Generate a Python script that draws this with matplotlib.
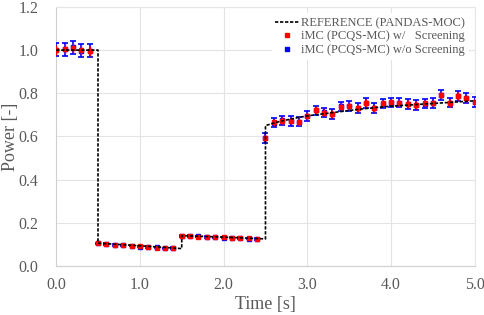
import numpy as np
import matplotlib
matplotlib.use('Agg')
import matplotlib.pyplot as plt
from matplotlib.lines import Line2D

plt.rcParams['font.family'] = ['Liberation Serif', 'DejaVu Serif']

# reference solution (PANDAS-MOC), step changes at 0.5, 1.5, 2.5 s
ref_t = [0.0, 0.5, 0.5, 1.0, 1.5, 1.5, 2.0, 2.5, 2.5, 2.6, 2.7, 2.8, 2.9,
         3.0, 3.2, 3.4, 3.6, 3.8, 4.0, 4.2, 4.4, 4.6, 4.8, 5.0]
ref_p = [1.0, 1.0, 0.105, 0.093, 0.080, 0.140, 0.133, 0.125, 0.650, 0.662,
         0.672, 0.680, 0.688, 0.695, 0.705, 0.715, 0.725, 0.733, 0.740,
         0.745, 0.750, 0.755, 0.760, 0.765]

# iMC results, sampled every 0.1 s
mc_t = [round(0.1 * i, 1) for i in range(51)]
mc_w = [1.000, 1.005, 1.010, 1.000, 0.995,
        0.105, 0.100, 0.097, 0.095, 0.092, 0.090, 0.088, 0.085, 0.083, 0.082,
        0.140, 0.138, 0.136, 0.135, 0.133, 0.132, 0.130, 0.128, 0.127, 0.125,
        0.591, 0.665, 0.673, 0.673, 0.668, 0.694, 0.722, 0.710, 0.704, 0.738,
        0.741, 0.730, 0.755, 0.730, 0.753, 0.758, 0.756, 0.750, 0.745, 0.753,
        0.753, 0.792, 0.756, 0.788, 0.776, 0.761]
mc_wo = [1.002, 1.003, 1.012, 0.998, 0.996,
         0.104, 0.101, 0.096, 0.095, 0.093, 0.089, 0.088, 0.086, 0.082, 0.083,
         0.139, 0.138, 0.137, 0.134, 0.133, 0.131, 0.130, 0.129, 0.126, 0.125,
         0.593, 0.664, 0.674, 0.672, 0.669, 0.695, 0.721, 0.711, 0.703, 0.739,
         0.740, 0.731, 0.754, 0.731, 0.752, 0.757, 0.757, 0.749, 0.746, 0.752,
         0.754, 0.791, 0.757, 0.787, 0.777, 0.760]
mc_err = [0.030] * 5 + [0.003] * 20 + [0.022] * 26

fig = plt.figure(figsize=(4.84, 3.15), dpi=100)
ax = fig.add_axes([0.116, 0.156, 0.865, 0.822])

gray = '#595959'
ax.errorbar(mc_t, mc_wo, yerr=mc_err, fmt='s', color='blue', ms=3,
            elinewidth=1.2, capsize=2.5, capthick=1.2, zorder=3)
ax.errorbar(mc_t, mc_w, yerr=np.array(mc_err) * 0.8, fmt='s', color='red',
            ms=3, elinewidth=1.0, capsize=0, zorder=4)
ax.plot(ref_t, ref_p, color='black', ls=(0, (2, 1)), lw=1.2, zorder=5)

ax.set_xlim(0, 5)
ax.set_ylim(0, 1.2)
ax.set_xticks(np.arange(0, 5.01, 1.0))
ax.set_yticks(np.arange(0, 1.21, 0.2))
ax.xaxis.set_major_formatter(matplotlib.ticker.FormatStrFormatter('%.1f'))
ax.yaxis.set_major_formatter(matplotlib.ticker.FormatStrFormatter('%.1f'))
ax.grid(color='#e3e3e3', lw=0.8)
ax.set_axisbelow(True)
for s in ['top', 'right']:
    ax.spines[s].set_color('#e6e6e6')
for s in ['left', 'bottom']:
    ax.spines[s].set_color('#d0d0d0')
ax.tick_params(length=0, colors=gray, labelsize=11.5)
ax.tick_params(axis='x', pad=8)
ax.tick_params(axis='y', pad=13)
ax.set_xlabel('Time [s]', color=gray, fontsize=13)
ax.set_ylabel('Power [-]', color=gray, fontsize=13)
ax.xaxis.set_label_coords(0.5, -0.118)
ax.yaxis.set_label_coords(-0.088, 0.5)

handles = [Line2D([], [], color='black', ls=(0, (2, 1)), lw=1.2),
           Line2D([], [], color='red', marker='s', ms=3, ls='none'),
           Line2D([], [], color='blue', marker='s', ms=3, ls='none')]
labels = ['REFERENCE (PANDAS-MOC)', 'iMC (PCQS-MC) w/   Screening',
          'iMC (PCQS-MC) w/o Screening']
leg = ax.legend(handles, labels, loc='upper right', frameon=True,
                fontsize=9, handlelength=1.9, handletextpad=0.15,
                labelspacing=0.12, borderaxespad=0.5, borderpad=0.3)
leg.get_frame().set_edgecolor('none')
leg.get_frame().set_facecolor('white')
leg.get_frame().set_alpha(1)
for t in leg.get_texts():
    t.set_color(gray)

fig.savefig('out.png', dpi=100)
